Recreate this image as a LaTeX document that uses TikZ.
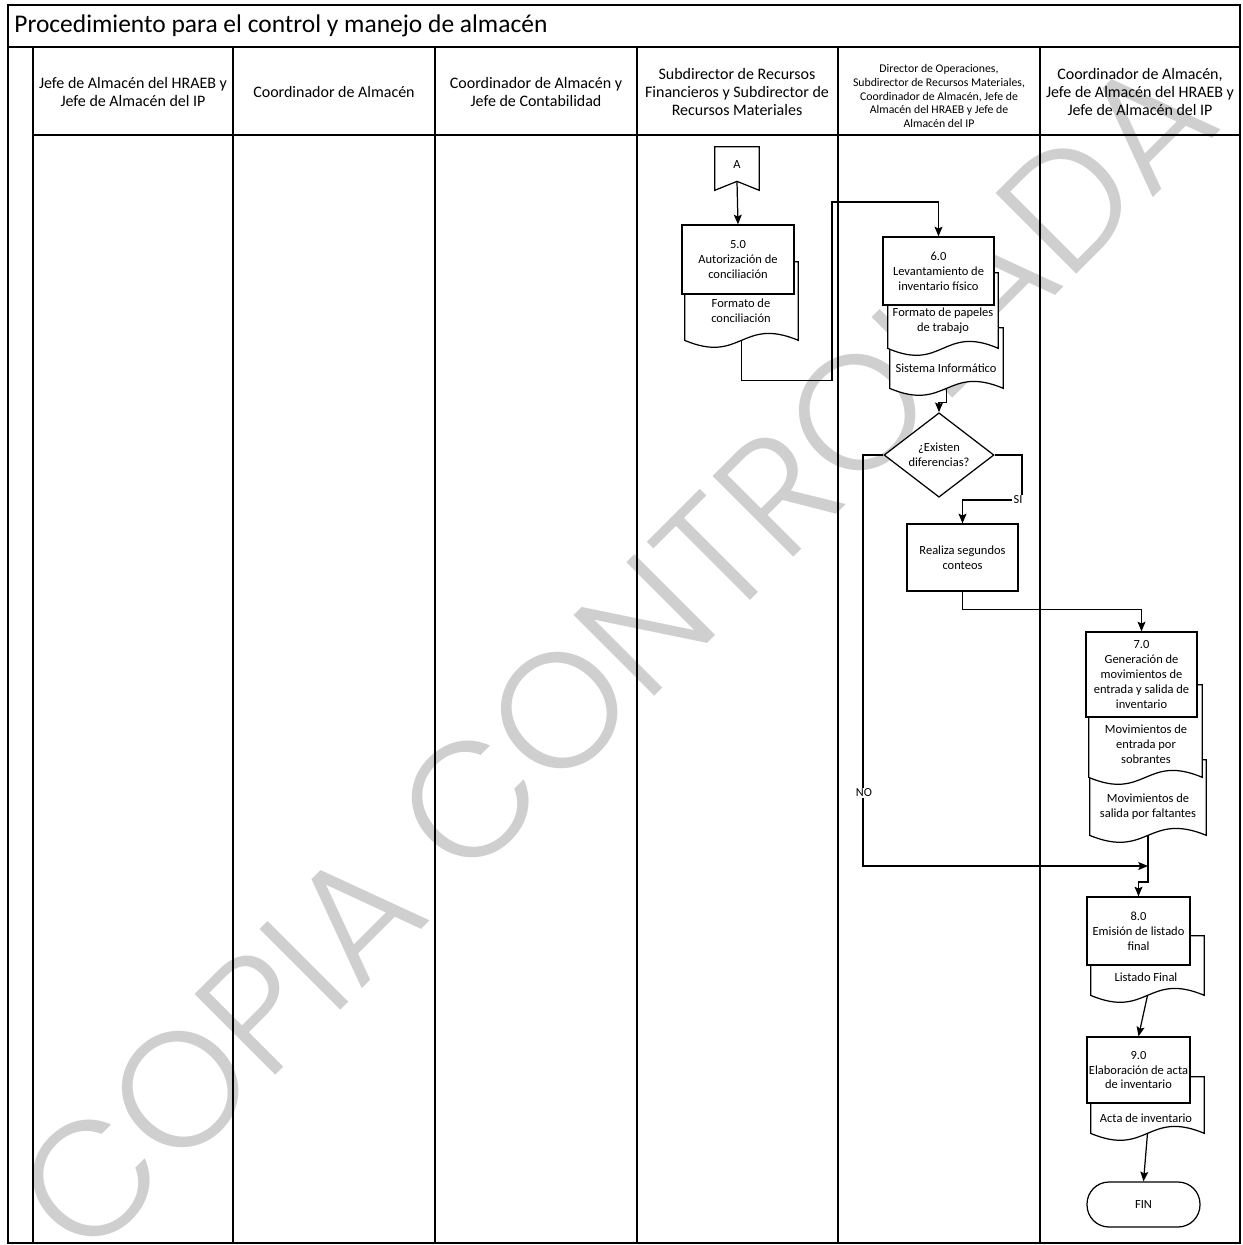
\documentclass[tikz,border=0pt]{standalone}
\usepackage{fontspec}
\setmainfont{Carlito}
\newfontfamily\wmfont{Poppins Light}
\usetikzlibrary{arrows.meta,calc,shapes.geometric}

\tikzset{
  frameline/.style={line width=0.9pt},
  proc/.style={draw, line width=0.7pt, fill=white, align=center, inner sep=1pt,
    font=\fontsize{7.1}{8.5}\selectfont},
  docnode/.style={draw=none, inner sep=0pt},
  docline/.style={draw, line width=0.7pt, fill=white},
  doctext/.style={align=center, inner sep=0pt, font=\fontsize{7.1}{8.5}\selectfont},
  flow/.style={line width=0.7pt, -{Stealth[length=5.5pt,width=4.5pt,inset=1pt]}},
  plain/.style={line width=0.7pt},
  hdr/.style={align=center, font=\fontsize{9.1}{10.4}\selectfont},
  hdrsmall/.style={align=center, font=\fontsize{6.7}{7.9}\selectfont},
  lbl/.style={fill=white, inner sep=0.8pt, font=\fontsize{7}{8}\selectfont},
  decision/.style={diamond, draw, line width=0.7pt, fill=white, align=center, inner sep=0pt,
    font=\fontsize{7.1}{8.5}\selectfont},
  term/.style={draw, line width=0.7pt, fill=white, rounded corners=0.44cm,
    font=\fontsize{7.1}{8.5}\selectfont},
  watermark/.style={text=gray!38, font=\wmfont\fontsize{93}{93}\selectfont, rotate=45, inner sep=0pt},
}

% process box from corner pixels
\newcommand{\procbox}[6]{%
  \pgfmathsetmacro{\pbx}{(#2+#4)/2}\pgfmathsetmacro{\pby}{(#3+#5)/2}%
  \pgfmathsetmacro{\pbw}{(#4-#2)*0.02}\pgfmathsetmacro{\pbh}{(#5-#3)*0.02}%
  \node[proc, minimum width=\pbw cm, minimum height=\pbh cm] (#1) at (\pbx,\pby) {#6};}
% document shape from corner pixels
\newcommand{\docshape}[5]{%
  \pgfmathsetmacro{\pbx}{(#2+#4)/2}\pgfmathsetmacro{\pby}{(#3+#5)/2}%
  \pgfmathsetmacro{\pbw}{(#4-#2)*0.02}\pgfmathsetmacro{\pbh}{(#5-#3)*0.02}%
  \node[docnode, minimum width=\pbw cm, minimum height=\pbh cm] (#1) at (\pbx,\pby) {};
  \draw[docline] (#1.south west) -- (#1.north west) -- (#1.north east) -- (#1.south east)
     .. controls ($(#1.south)+(0,-24)$) and ($(#1.south)+(0,24)$) .. (#1.south west) -- cycle;}

\begin{document}
\begin{tikzpicture}[x=0.02cm, y=-0.02cm]
\useasboundingbox (0,0) rectangle (1242,1245);

% watermark
\node[watermark] (wm) at (615,655) {COPIA CONTROLADA};

% frame and lanes
\draw[frameline] (8,5) rectangle (1240,1243);
\draw[frameline] (8,47) -- (1240,47);
\draw[frameline] (33,135) -- (1240,135);
\foreach \xx in {33,233,435,637,838,1040} \draw[frameline] (\xx,47) -- (\xx,1243);

\node[anchor=west, inner sep=0pt, font=\fontsize{14.5}{16}\selectfont] (title) at (14,26)
  {Procedimiento para el control y manejo de almacén};

\node[hdr] (h1) at (133,92) {Jefe de Almacén del HRAEB y\\Jefe de Almacén del IP};
\node[hdr] (h2) at (334,92) {Coordinador de Almacén};
\node[hdr] (h3) at (536,92) {Coordinador de Almacén y\\Jefe de Contabilidad};
\node[hdr] (h4) at (737,92) {Subdirector de Recursos\\Financieros y Subdirector de\\Recursos Materiales};
\node[hdrsmall] (h5) at (939,96) {Director de Operaciones,\\Subdirector de Recursos Materiales,\\Coordinador de Almacén, Jefe de\\Almacén del HRAEB y Jefe de\\Almacén del IP};
\node[hdr] (h6) at (1140,92) {Coordinador de Almacén,\\Jefe de Almacén del HRAEB y\\Jefe de Almacén del IP};

% off-page connector A
\node[docnode, minimum width=0.88cm, minimum height=0.86cm] (A) at (737,168.5) {};
\draw[plain, fill=white] (A.north west) -- (A.north east) -- (A.south east) -- ($(A.south)+(0,-9)$) -- (A.south west) -- cycle;
\node[doctext] (Atxt) at (737,164) {A};
\coordinate (Atip) at ($(A.south)+(0,-9)$);

% 5.0
\docshape{d5}{685}{262}{798}{340}
\node[doctext] (d5t) at (741,311) {Formato de\\conciliación};
\procbox{b5}{682}{225}{794}{294}{5.0\\Autorización de\\conciliación}
\draw[flow] (Atip) -- (b5.north);

% 6.0
\docshape{d6b}{890}{328}{1003}{388}
\node[doctext] (d6bt) at (946,368) {Sistema Informático};
\docshape{d6a}{888}{273}{998}{348}
\node[doctext] (d6at) at (943,321) {Formato de papeles\\de trabajo};
\procbox{b6}{883}{237}{994}{305}{6.0\\Levantamiento de\\inventario físico}
\draw[flow] (d5.south) -- ++(0,40) -| (832,202) -| (b6.north);

% decision
\node[decision, minimum width=2.2cm, minimum height=1.32cm] (dia) at (939,455) {¿Existen\\diferencias?};
\draw[flow] (d6b.south) -- ++(0,14) -| (dia.north);

% segundos conteos
\procbox{seg}{907}{524}{1018}{591}{Realiza segundos\\conteos}
\draw[flow] (dia.east) -| (1022,500) -| (seg.north);
\node[lbl] (si) at (1018,500) {SI};

% 7.0
\docshape{d7b}{1090}{760}{1206}{835}
\node[doctext] (d7bt) at (1148,807) {Movimientos de\\salida por faltantes};
\docshape{d7a}{1089}{685}{1202}{777}
\node[doctext] (d7at) at (1146,744) {Movimientos de\\entrada por\\sobrantes};
\procbox{b7}{1086}{632}{1197}{717}{7.0\\Generación de\\movimientos de\\entrada y salida de\\inventario}
\draw[flow] (seg.south) -- ++(0,18) -| (b7.north);

% 8.0
\docshape{d8}{1091}{936}{1204}{995}
\node[doctext] (d8t) at (1146,977) {Listado Final};
\procbox{b8}{1087}{897}{1190}{965}{8.0\\Emisión de listado\\final}

\coordinate (mrg) at (d7b.south |- 0,866);
\draw[flow] (dia.west) -| (863,866) -- (mrg);
\draw[flow] (d7b.south) -- (mrg) -- ++(0,16) -| (b8.north);
\node[lbl] (no) at (864,793) {NO};

% 9.0
\docshape{d9}{1091}{1077}{1204}{1133}
\node[doctext] (d9t) at (1146,1118) {Acta de inventario};
\procbox{b9}{1087}{1037}{1190}{1103}{9.0\\Elaboración de acta\\de inventario}
\draw[flow] (d8.south) -- (b9.north);

% FIN
\node[term, minimum width=2.26cm, minimum height=0.9cm] (fin) at (1143.5,1204.5) {FIN};
\draw[flow] (d9.south) -- (fin.north);
\end{tikzpicture}
\end{document}
